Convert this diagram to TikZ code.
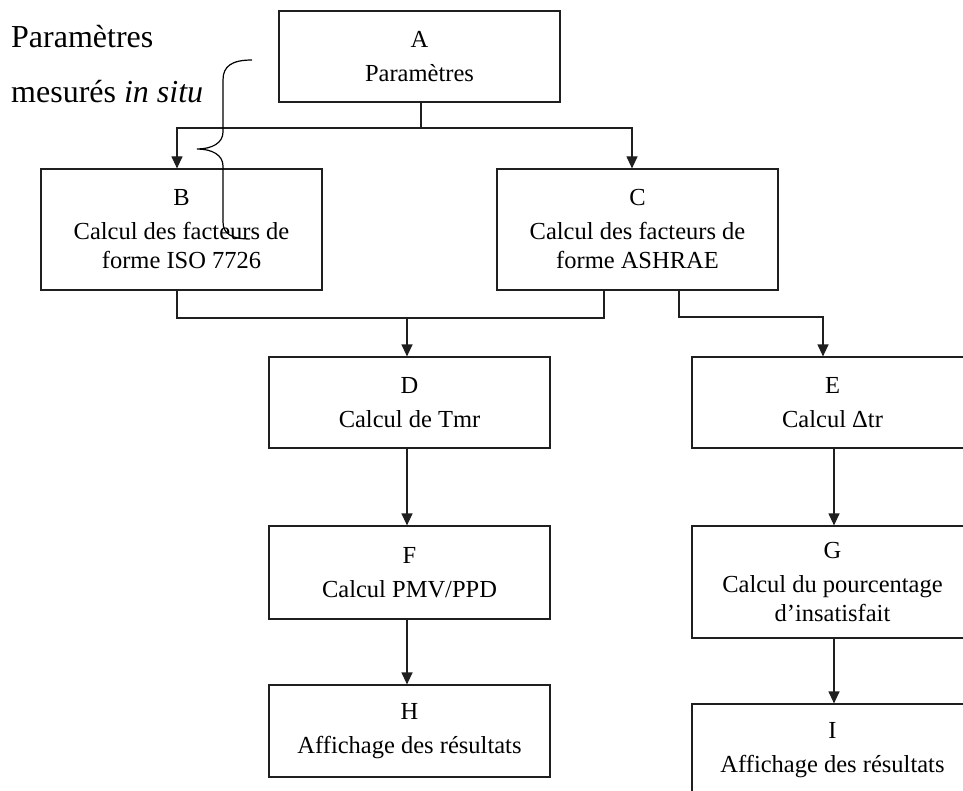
\documentclass[tikz,border=0pt]{standalone}
\usepackage{fontspec}
\setmainfont{Liberation Serif}
\usetikzlibrary{arrows.meta}
\tikzset{
  box/.style={draw=black!88, line width=1.2pt, minimum width=281pt, inner sep=0pt,
    align=center, font=\fontsize{24.5}{29}\selectfont, fill=white},
  wire/.style={draw=black!88, line width=1.2pt},
  arr/.style={wire, -{Triangle[width=11pt,length=12pt]}},
  lbl/.style={anchor=base west, inner sep=0pt, font=\fontsize{32}{38}\selectfont},
  bracepath/.style={draw=black, line width=1.2pt}
}
\begin{document}
\begin{tikzpicture}[x=1pt,y=-1pt]
\useasboundingbox (0,0) rectangle (963,791);
\clip (0,0) rectangle (963,791);
\fill[white] (0,0) rectangle (963,791);
% boxes
\node[box, minimum height=91pt]  (A) at (419.5,56.5) {A\\[5pt]Paramètres};
\node[box, minimum height=121pt] (B) at (181.5,229.5) {B\\[5pt]Calcul des facteurs de\\forme ISO 7726};
\node[box, minimum height=121pt] (C) at (637.5,229.5) {C\\[5pt]Calcul des facteurs de\\forme ASHRAE};
\node[box, minimum height=91pt]  (D) at (409.5,402.5) {D\\[5pt]Calcul de Tmr};
\node[box, minimum height=91pt]  (E) at (832.5,402.5) {E\\[5pt]Calcul Δtr};
\node[box, minimum height=93pt]  (F) at (409.5,572.5) {F\\[5pt]Calcul PMV/PPD};
\node[box, minimum height=112pt] (G) at (832.5,582) {G\\[5pt]Calcul du pourcentage\\d’insatisfait};
\node[box, minimum height=92pt]  (H) at (409.5,731) {H\\[5pt]Affichage des résultats};
\node[box, minimum height=92pt]  (I) at (832.5,750) {I\\[5pt]Affichage des résultats};
% labels
\node[lbl] (l1) at (11,48) {Paramètres};
\node[lbl] (l2) at (11,103) {mesurés \textit{in situ}};
% connector anchors
\coordinate (busA) at (0,128);
\coordinate (busB) at (0,318);
\coordinate (aOut) at ([xshift=1.5pt]A.south);
\coordinate (bIn) at ([xshift=-4.5pt]B.north);
\coordinate (cIn) at ([xshift=-5.5pt]C.north);
\coordinate (bOut) at ([xshift=-4.5pt]B.south);
\coordinate (cOutL) at ([xshift=-33.5pt]C.south);
\coordinate (cOutR) at ([xshift=41.5pt]C.south);
\coordinate (dIn) at ([xshift=-2.5pt]D.north);
\coordinate (eIn) at ([xshift=-9.5pt]E.north);
\coordinate (busE) at (eIn |- 0,317);
% connectors
\draw[wire] (aOut) -- (aOut |- busA);
\draw[arr] (aOut |- busA) -| (bIn);
\draw[arr] (aOut |- busA) -| (cIn);
\draw[wire] (bOut) |- (cOutL |- busB) -- (cOutL);
\draw[arr] (dIn |- busB) -- (dIn);
\draw[arr] (cOutR) |- (busE) -- (eIn);
\draw[arr] ([xshift=-2.5pt]D.south) -- ([xshift=-2.5pt]F.north);
\draw[arr] ([xshift=-2.5pt]F.south) -- ([xshift=-2.5pt]H.north);
\draw[arr] ([xshift=1.5pt]E.south) -- ([xshift=1.5pt]G.north);
\draw[arr] ([xshift=1.5pt]G.south) -- ([xshift=1.5pt]I.north);
% brace
\draw[bracepath] (252,60) .. controls (232,60) and (223,66) .. (223,80)
  -- (223,132) .. controls (223,143) and (212,149) .. (197,149)
  .. controls (212,149) and (223,155) .. (223,166)
  -- (223,222) .. controls (223,234) and (232,239) .. (250,239);
\end{tikzpicture}
\end{document}
